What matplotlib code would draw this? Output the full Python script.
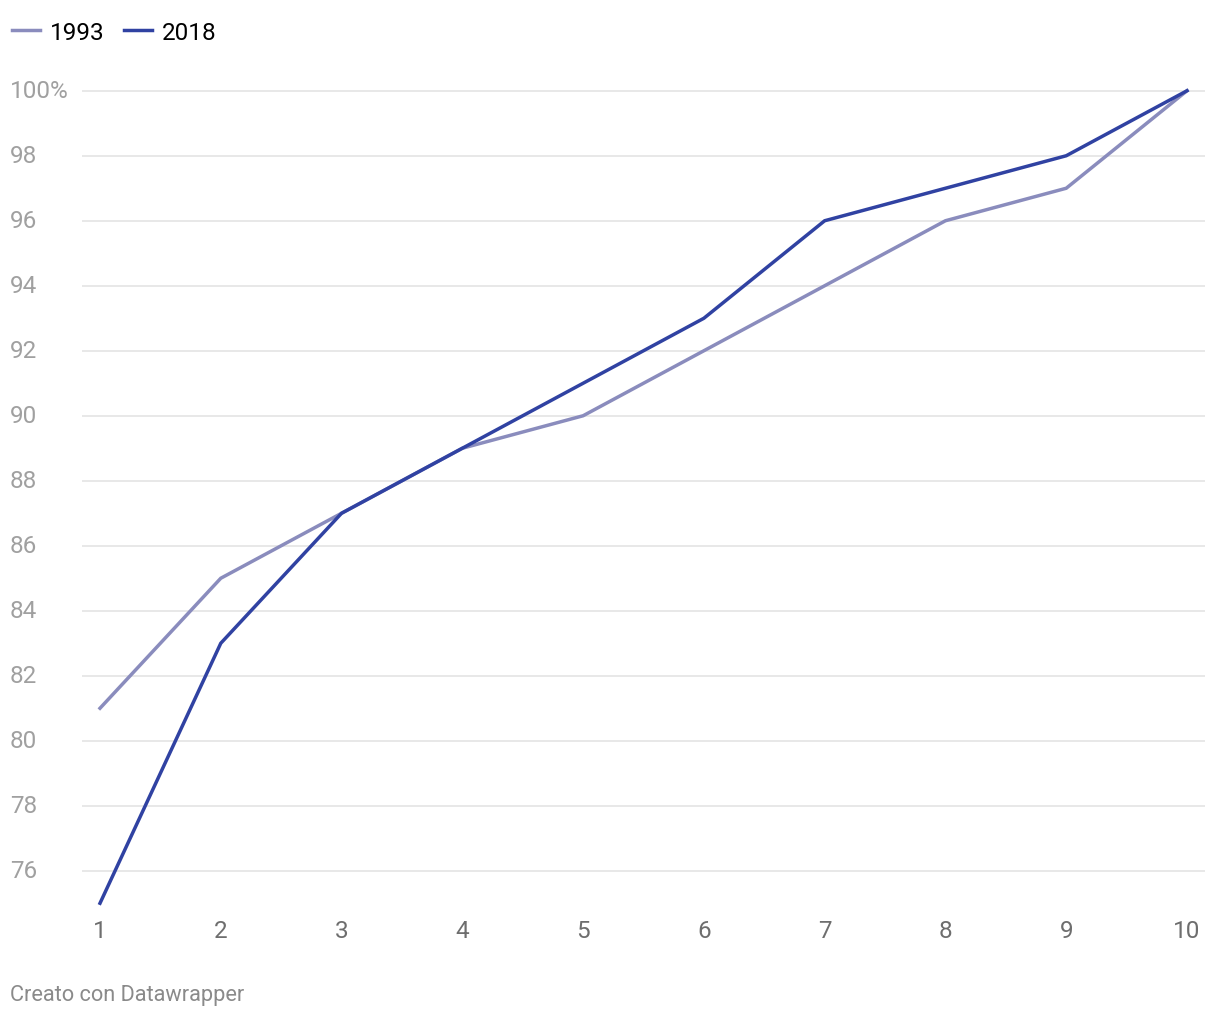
import matplotlib.pyplot as plt
import matplotlib.transforms as mtransforms

plt.rcParams['font.family'] = ['Roboto', 'DejaVu Sans']

decili = [1, 2, 3, 4, 5, 6, 7, 8, 9, 10]
valori_1993 = [81, 85, 87, 89, 90, 92, 94, 96, 97, 100]
valori_2018 = [75, 83, 87, 89, 91, 93, 96, 97, 98, 100]
y_ticks = [76, 78, 80, 82, 84, 86, 88, 90, 92, 94, 96, 98, 100]
y_labels = ["76", "78", "80", "82", "84", "86", "88", "90", "92", "94", "96", "98", "100%"]

W, H = 1220, 1020
fig = plt.figure(figsize=(W / 100, H / 100), dpi=100)

# posizione degli assi in pixel
left, right = 82, 1205
top, bottom = 75.5, 920.5
ax = fig.add_axes([left / W, 1 - bottom / H, (right - left) / W, (bottom - top) / H])

ax.plot(decili, valori_1993, color="#8a8cbd", lw=2.5, label="1993",
        solid_joinstyle="miter", zorder=3)
ax.plot(decili, valori_2018, color="#3042a2", lw=2.5, label="2018",
        solid_joinstyle="miter", zorder=4)

ax.set_xlim(1 - 18 / 120.78, 10 + 18 / 120.78)
ax.set_ylim(74.5, 100.5)

for s in ax.spines.values():
    s.set_visible(False)

ax.set_yticks(y_ticks)
ax.yaxis.grid(True, color="#e2e2e2", lw=1.1)
ax.set_axisbelow(True)
ax.tick_params(axis="y", length=0, labelleft=False)

trans = mtransforms.blended_transform_factory(fig.transFigure, ax.transData)
for v, lab in zip(y_ticks, y_labels):
    ax.text(10 / W, v, lab, transform=trans, ha="left", va="center",
            fontsize=17.5, color="#a0a0a0")

ax.set_xticks(decili)
ax.set_xticklabels([str(d) for d in decili])
ax.tick_params(axis="x", length=0, pad=0, labelsize=17.5, labelcolor="#6e6e6e")

fig.legend(loc="upper left", bbox_to_anchor=(12 / W, 1 - 22 / H), ncol=2,
           frameon=False, fontsize=17.5, handlelength=1.15, handletextpad=0.42,
           columnspacing=0.78, borderaxespad=0, borderpad=0)

fig.text(10 / W, 1 - 996 / H, "Creato con Datawrapper", ha="left", va="center",
         fontsize=15.7, color="#8a8a8a")

fig.savefig("out.png", dpi=100)
